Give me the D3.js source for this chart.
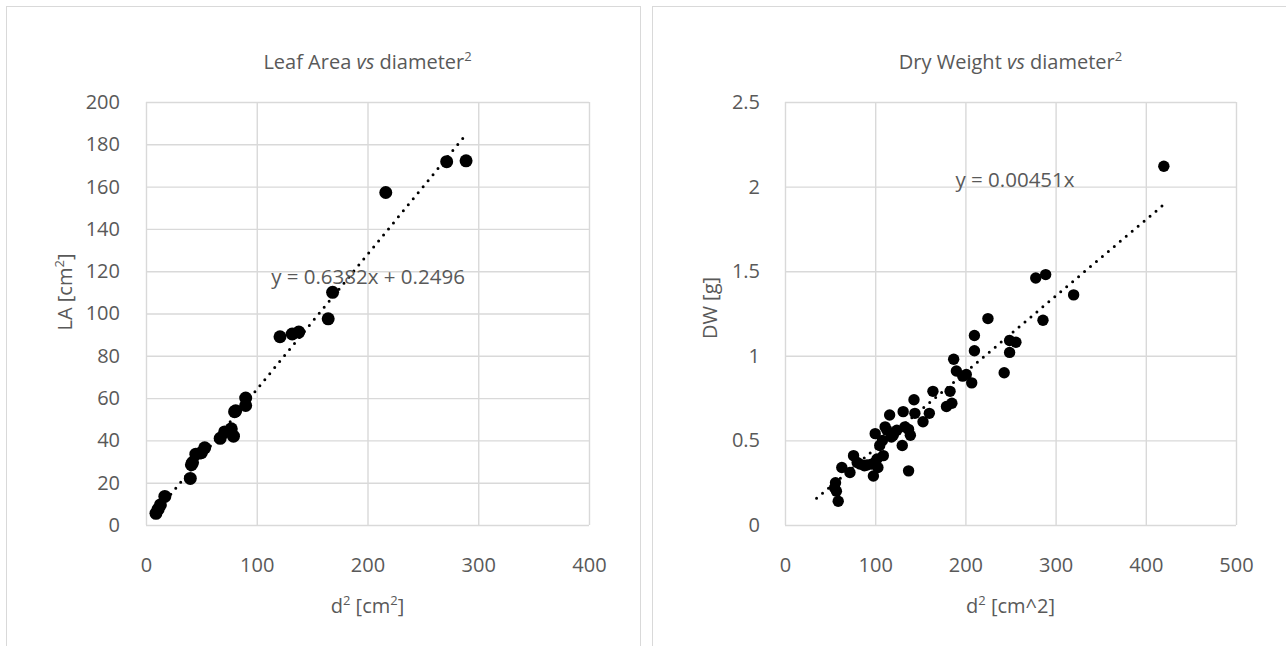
<!DOCTYPE html>
<html>
<head>
<meta charset="utf-8">
<script src="https://cdn.jsdelivr.net/npm/d3@7"></script>
<style>
  body { margin: 0; background: #fff; }
  text { font-family: "Open Sans", sans-serif; fill: #595959; }
</style>
</head>
<body>
<div id="chart"></div>
<script>
// leaf area vs d^2
var leafX = [9, 11, 13, 17, 40, 41, 42, 45, 50, 53, 67, 71, 77, 79, 80, 81, 90, 90, 121, 132, 138, 164.5, 168.5, 216.5, 271.5, 289];
var leafY = [5.5, 7.5, 9.5, 13.5, 22, 28.5, 29.5, 33.5, 34.2, 36.5, 41, 44, 45.5, 42, 53.6, 54, 56.5, 60, 89, 90.3, 91.2, 97.5, 110, 157.2, 171.8, 172.2];
var leafTicksX = [0, 100, 200, 300, 400];
var leafTicksY = [0, 20, 40, 60, 80, 100, 120, 140, 160, 180, 200];
var leafSlope = 0.6382, leafIntercept = 0.2496;

// dry weight vs d^2
var dryX = [59, 55, 56, 57, 63, 72, 76, 80, 83, 88, 91, 96, 98, 100, 103, 102, 109, 105, 108, 100, 111, 113, 116, 118, 120, 124, 130, 131, 133, 137, 139, 137, 143, 144, 153, 160, 164, 179, 185, 183, 187, 190, 197, 201, 207, 210, 210, 225, 243, 249, 249, 256, 278, 289, 286, 320, 420];
var dryY = [0.14, 0.22, 0.25, 0.2, 0.34, 0.31, 0.41, 0.37, 0.36, 0.35, 0.355, 0.36, 0.29, 0.37, 0.34, 0.39, 0.41, 0.47, 0.5, 0.54, 0.58, 0.56, 0.65, 0.52, 0.53, 0.56, 0.47, 0.67, 0.58, 0.565, 0.53, 0.32, 0.74, 0.66, 0.61, 0.66, 0.79, 0.7, 0.72, 0.79, 0.98, 0.91, 0.88, 0.89, 0.84, 1.03, 1.12, 1.22, 0.9, 1.02, 1.09, 1.08, 1.46, 1.48, 1.21, 1.36, 2.12];
var dryTicksX = [0, 100, 200, 300, 400, 500];
var dryTicksY = [0, 0.5, 1, 1.5, 2, 2.5];
var drySlope = 0.00451, dryIntercept = 0;
var dryTrendX = [35, 420];

var svg = d3.select("#chart")
    .append("svg")
    .attr("width", 1286)
    .attr("height", 646);

function addText(g, parts, x, y, size) {
  var t = g.append("text")
      .attr("x", x)
      .attr("y", y)
      .attr("text-anchor", "middle")
      .style("font-size", size + "px");
  var shifted = false;
  parts.forEach(function(p) {
    var s = t.append("tspan").text(p.text);
    if (p.italic) s.style("font-style", "italic");
    if (p.sup) {
      s.attr("dy", -8).style("font-size", (size * 0.65) + "px");
      shifted = true;
    } else if (shifted) {
      s.attr("dy", 8);
      shifted = false;
    }
  });
  return t;
}

function drawPanel(cfg) {
  var g = svg.append("g");

  g.append("rect")
      .attr("x", cfg.boxX + 0.5)
      .attr("y", 6.5)
      .attr("width", 634)
      .attr("height", 700)
      .attr("fill", "#fff")
      .attr("stroke", "#d9d9d9");

  var xScale = d3.scaleLinear().domain(cfg.xDomain).range(cfg.xRange);
  var yScale = d3.scaleLinear().domain(cfg.yDomain).range(cfg.yRange);
  var plotH = cfg.yRange[0] - cfg.yRange[1];
  var plotW = cfg.xRange[1] - cfg.xRange[0];
  var fmt = function(d) { return String(d); };

  // gridlines
  var gx = g.append("g")
      .attr("transform", "translate(0," + cfg.yRange[0] + ")")
      .call(d3.axisBottom(xScale).tickValues(cfg.xTicks).tickSize(-plotH).tickFormat(""));
  var gy = g.append("g")
      .attr("transform", "translate(" + cfg.xRange[0] + ",0)")
      .call(d3.axisLeft(yScale).tickValues(cfg.yTicks).tickSize(-plotW).tickFormat(""));
  [gx, gy].forEach(function(a) {
    a.select(".domain").remove();
    a.selectAll(".tick line").attr("stroke", "#d9d9d9").attr("stroke-width", 1.4);
  });

  // tick labels
  var lx = g.append("g")
      .attr("transform", "translate(0," + cfg.yRange[0] + ")")
      .call(d3.axisBottom(xScale).tickValues(cfg.xTicks).tickSize(0).tickPadding(cfg.xPad).tickFormat(fmt));
  var ly = g.append("g")
      .attr("transform", "translate(" + cfg.xRange[0] + ",0)")
      .call(d3.axisLeft(yScale).tickValues(cfg.yTicks).tickSize(0).tickPadding(cfg.yPad).tickFormat(fmt));
  [lx, ly].forEach(function(a) {
    a.select(".domain").remove();
    a.selectAll(".tick text")
        .attr("fill", "#595959")
        .style("font-family", "'Open Sans', sans-serif")
        .style("font-size", "20px");
  });

  // trendline
  var line = d3.line()
      .x(function(d) { return xScale(d); })
      .y(function(d) { return yScale(cfg.slope * d + cfg.intercept); });
  g.append("path")
      .datum(cfg.trendX)
      .attr("d", line)
      .attr("fill", "none")
      .attr("stroke", "#000")
      .attr("stroke-width", 3)
      .attr("stroke-linecap", "round")
      .attr("stroke-dasharray", "0 7.8");

  // points
  g.selectAll("circle.pt")
      .data(cfg.xs)
      .enter()
      .append("circle")
      .attr("class", "pt")
      .attr("cx", function(d) { return xScale(d); })
      .attr("cy", function(d, i) { return yScale(cfg.ys[i]); })
      .attr("r", cfg.r)
      .attr("fill", "#000");

  // equation
  addText(g, [{text: cfg.equation}], cfg.eqPos[0], cfg.eqPos[1], 20.5);

  // titles
  var midX = (cfg.xRange[0] + cfg.xRange[1]) / 2;
  addText(g, cfg.title, midX, 69, 20);
  addText(g, cfg.xTitle, midX, 613, 20);
  addText(g, cfg.yTitle, 0, 0, 20)
      .attr("transform", "translate(" + cfg.yTitlePos[0] + "," + cfg.yTitlePos[1] + ") rotate(-90)");
}

drawPanel({
  boxX: 6,
  xDomain: [0, 400], yDomain: [0, 200],
  xRange: [146, 589], yRange: [525, 102],
  xTicks: leafTicksX, yTicks: leafTicksY,
  xPad: 33, yPad: 26,
  xs: leafX, ys: leafY, r: 6.5,
  slope: leafSlope, intercept: leafIntercept,
  trendX: d3.extent(leafX),
  equation: "y = 0.6382x + 0.2496", eqPos: [368, 284],
  title: [{text: "Leaf Area "}, {text: "vs", italic: true}, {text: " diameter"}, {text: "2", sup: true}],
  xTitle: [{text: "d"}, {text: "2", sup: true}, {text: " [cm"}, {text: "2", sup: true}, {text: "]"}],
  yTitle: [{text: "LA [cm"}, {text: "2", sup: true}, {text: "]"}],
  yTitlePos: [72, 292]
});

drawPanel({
  boxX: 652,
  xDomain: [0, 500], yDomain: [0, 2.5],
  xRange: [785, 1236], yRange: [525, 102],
  xTicks: dryTicksX, yTicks: dryTicksY,
  xPad: 33, yPad: 25,
  xs: dryX, ys: dryY, r: 5.7,
  slope: drySlope, intercept: dryIntercept,
  trendX: dryTrendX,
  equation: "y = 0.00451x", eqPos: [1015, 187],
  title: [{text: "Dry Weight "}, {text: "vs", italic: true}, {text: " diameter"}, {text: "2", sup: true}],
  xTitle: [{text: "d"}, {text: "2", sup: true}, {text: " [cm^2]"}],
  yTitle: [{text: "DW [g]"}],
  yTitlePos: [717, 308]
});
</script>
</body>
</html>
